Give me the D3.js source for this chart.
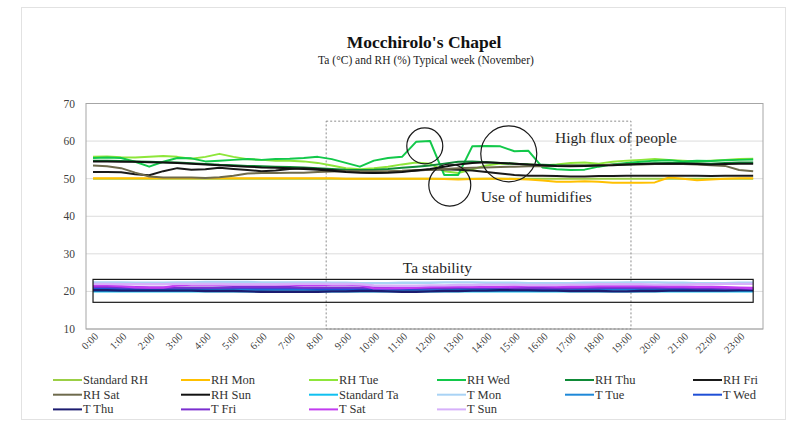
<!DOCTYPE html>
<html>
<head>
<meta charset="utf-8">
<script src="https://cdn.jsdelivr.net/npm/d3@7"></script>
<style>
  body { margin: 0; background: #fff; }
  text { font-family: "Liberation Serif", "DejaVu Serif", serif; }
</style>
</head>
<body>
<script>
// half-hourly readings, 0:00 .. 23:30
const hourLabels = ["0:00","1:00","2:00","3:00","4:00","5:00","6:00","7:00","8:00","9:00","10:00","11:00",
    "12:00","13:00","14:00","15:00","16:00","17:00","18:00","19:00","20:00","21:00","22:00","23:00"];
const yTicks = [10, 20, 30, 40, 50, 60, 70];

const standardRH = [50,50,50,50,50,50,50,50,50,50,50,50,50,50,50,50,50,50,50,50,50,50,50,50,
    50,50,50,50,50,50,50,50,50,50,50,50,50,50,50,50,50,50,50,50,50,50,50,50];
const rhMon = [50.1,50.1,50.1,50.1,50.1,50.1,50.1,50.1,50.1,50.1,50.1,50.1,50.1,50.1,50.1,50.1,50.1,50.1,50.0,50.0,50.0,50.0,50.0,50.0,
    50.0,49.9,49.8,49.9,50.0,50.0,49.9,49.8,49.5,49.2,49.2,49.3,49.2,48.9,48.9,48.9,49.0,50.3,50.0,49.6,49.8,50.0,50.1,50.1];
const rhTue = [55.8,55.9,55.7,55.6,55.8,56.0,55.8,55.3,55.8,56.6,55.8,55.2,55.0,54.8,54.8,54.6,54.2,53.5,52.8,52.5,52.8,53.2,53.8,54.3,
    54.0,52.0,51.5,52.5,53.5,54.0,54.0,53.8,53.5,53.8,54.2,54.3,54.0,54.5,54.8,55.0,55.2,55.0,54.8,54.6,54.8,55.0,55.2,55.3];
const rhWed = [55.5,55.6,55.5,54.5,53.2,54.5,55.5,55.4,54.6,54.8,55.0,55.2,55.0,55.2,55.3,55.5,55.8,55.2,54.2,53.2,54.8,55.5,55.8,59.8,
    60.0,51.0,51.0,58.6,58.7,58.6,57.3,57.4,53.0,52.5,52.3,52.4,53.2,53.8,54.2,54.5,54.8,54.9,54.6,54.8,54.7,54.9,55.0,55.1];
const rhThu = [54.8,54.8,54.7,54.6,54.5,54.4,54.3,54.1,53.9,53.7,53.6,53.4,53.3,53.2,53.1,53.0,52.8,52.6,52.4,52.3,52.4,52.6,52.9,53.2,
    53.5,54.0,54.5,54.6,54.4,54.2,54.0,53.8,53.7,53.6,53.5,53.5,53.6,53.7,53.8,54.0,54.1,54.2,54.2,54.1,54.0,54.2,54.3,54.3];
const rhFri = [51.8,51.8,51.7,51.2,50.9,52.0,52.8,52.4,52.5,52.9,52.6,52.3,52.0,52.2,52.6,52.8,52.6,52.3,52.0,51.8,51.6,51.8,52.0,52.2,
    52.4,52.5,52.4,52.2,51.8,51.4,51.0,50.8,50.8,50.7,50.6,50.6,50.7,50.7,50.8,50.8,50.8,50.8,50.8,50.8,50.7,50.8,50.8,50.8];
const rhSat = [53.5,53.3,52.8,51.6,50.6,50.3,50.3,50.3,50.2,50.4,50.8,51.4,51.5,51.5,51.6,51.6,51.8,51.9,52.0,52.0,52.0,52.0,52.1,52.3,
    52.4,52.6,52.8,52.9,53.0,53.1,53.2,53.3,53.3,53.4,53.5,53.5,53.6,53.7,53.8,53.8,53.9,53.9,53.9,53.8,53.6,53.4,52.3,52.0];
const rhSun = [54.6,54.6,54.5,54.5,54.4,54.3,54.2,54.0,53.8,53.6,53.4,53.2,53.0,52.9,52.8,52.6,52.4,52.1,51.8,51.6,51.5,51.6,51.8,52.2,
    52.6,53.2,53.8,54.2,54.4,54.2,54.0,53.8,53.6,53.4,53.3,53.4,53.5,53.6,53.8,53.9,54.0,54.0,54.0,53.9,53.8,53.9,54.0,54.0];
const standardTa = [20,20,20,20,20,20,20,20,20,20,20,20,20,20,20,20,20,20,20,20,20,20,20,20,
    20,20,20,20,20,20,20,20,20,20,20,20,20,20,20,20,20,20,20,20,20,20,20,20];
const tMon = [22.4,22.4,22.4,22.3,22.3,22.3,22.4,22.4,22.5,22.5,22.5,22.5,22.4,22.4,22.4,22.4,22.4,22.3,22.3,22.2,22.2,22.2,22.3,22.3,
    22.3,22.4,22.4,22.4,22.3,22.3,22.3,22.2,22.2,22.2,22.2,22.3,22.3,22.3,22.4,22.4,22.4,22.3,22.3,22.2,22.2,22.2,22.3,22.3];
const tTue = [20.6,20.6,20.5,20.5,20.5,20.4,20.4,20.4,20.4,20.5,20.5,20.5,20.5,20.6,20.6,20.6,20.5,20.5,20.4,20.4,20.4,20.5,20.5,20.5,
    20.5,20.6,20.6,20.6,20.5,20.5,20.5,20.5,20.4,20.4,20.4,20.5,20.5,20.6,20.6,20.6,20.5,20.5,20.5,20.5,20.5,20.6,20.6,20.6];
const tWed = [20.8,20.8,20.7,20.7,20.7,20.7,20.8,20.8,20.8,20.9,20.9,20.9,20.8,20.8,20.8,20.8,20.7,20.7,20.7,20.6,20.6,20.6,20.7,20.7,
    20.8,20.8,20.9,20.9,20.8,20.8,20.7,20.7,20.7,20.7,20.8,20.8,20.8,20.9,20.9,20.8,20.8,20.8,20.7,20.7,20.7,20.8,20.8,20.8];
const tThu = [20.3,20.3,20.2,20.2,20.2,20.2,20.2,20.2,20.1,20.1,20.1,20.0,19.9,19.9,19.9,19.9,19.9,20.0,20.0,20.1,20.1,20.0,19.9,19.9,
    20.0,20.1,20.1,20.2,20.2,20.3,20.3,20.3,20.2,20.2,20.1,20.1,20.1,20.0,20.0,20.1,20.1,20.2,20.2,20.2,20.2,20.2,20.3,20.3];
const tFri = [21.2,21.2,21.1,21.1,21.0,21.0,21.0,21.0,21.0,21.0,21.1,21.1,21.1,21.1,21.1,21.0,21.0,21.0,21.0,21.0,21.0,20.9,20.9,20.9,
    20.9,20.9,21.0,21.0,21.0,21.0,20.9,20.9,20.9,20.9,20.9,21.0,21.0,21.0,21.0,21.0,21.0,21.0,21.0,20.9,20.9,20.8,20.8,20.7];
const tSat = [21.6,21.6,21.4,21.1,21.0,21.0,21.6,21.8,21.8,21.8,21.8,21.8,21.8,21.8,21.8,21.7,21.7,21.8,21.8,21.7,20.8,20.8,20.9,21.0,
    21.2,21.3,21.3,21.2,21.2,21.2,21.3,21.4,21.4,21.3,21.3,21.3,21.4,21.4,21.5,21.4,21.4,21.3,21.3,21.2,21.2,21.1,21.0,20.9];
const tSun = [22.0,22.0,21.9,21.9,21.9,21.9,22.0,22.0,22.0,22.0,21.9,21.9,21.9,21.9,22.0,22.0,22.0,22.0,22.0,21.9,21.6,21.5,21.5,21.5,
    21.6,21.6,21.7,21.7,21.8,21.8,21.8,21.7,21.7,21.7,21.8,21.8,21.9,21.9,21.9,21.9,21.8,21.8,21.8,21.9,21.9,22.0,22.0,22.0];

const seriesNames = ["Standard RH","RH Mon","RH Tue","RH Wed","RH Thu","RH Fri",
    "RH Sat","RH Sun","Standard Ta","T Mon","T Tue","T Wed","T Thu","T Fri","T Sat","T Sun"];
const seriesValues = [standardRH, rhMon, rhTue, rhWed, rhThu, rhFri,
    rhSat, rhSun, standardTa, tMon, tTue, tWed, tThu, tFri, tSat, tSun];
const seriesColors = ["#9bcf45","#ffc000","#8ee63a","#12c84a","#0f8a37","#1a1a1a",
    "#6e6a4c","#111111","#10c0f0","#a9d3f5","#1e88d8","#1f4fd6","#1c1c70","#7b2fd0","#c23cf0","#d6b0fa"];

// annotations, in data units (hour, value)
const dottedBox = {x0: 8.3, x1: 19.15, y0: 10, y1: 65.3};
const stabilityBox = {x0: 0, x1: 23.5, y0: 17.1, y1: 23.2};
const circles = [{h: 11.81, v: 58.7, r: 18}, {h: 12.7, v: 48.3, r: 21}, {h: 14.8, v: 56.6, r: 28}];
const notes = [{h: 16.45, v: 59.5, t: "High flux of people"},
    {h: 13.8, v: 43.8, t: "Use of humidifies"},
    {h: 11.03, v: 24.9, t: "Ta stability"}];

const W = 802, H = 421;
const plot = {left: 86, right: 763, top: 103.5, bottom: 329};

const svg = d3.select("body").append("svg")
    .attr("width", W)
    .attr("height", H);

svg.append("rect")
    .attr("x", 21.5).attr("y", 7.5)
    .attr("width", 764).attr("height", 412)
    .attr("fill", "#fff")
    .attr("stroke", "#e2e2e2");

const x = d3.scaleLinear()
    .domain([-0.25, 23.85])
    .range([plot.left, plot.right]);
const y = d3.scaleLinear()
    .domain([10, 70])
    .range([plot.bottom, plot.top]);

svg.append("text")
    .attr("x", 424).attr("y", 48)
    .attr("text-anchor", "middle")
    .attr("font-size", 17.5).attr("font-weight", "bold")
    .attr("fill", "#111")
    .text("Mocchirolo's Chapel");
svg.append("text")
    .attr("x", 426).attr("y", 64)
    .attr("text-anchor", "middle")
    .attr("font-size", 11.5)
    .attr("fill", "#222")
    .text("Ta  (°C) and RH (%)  Typical week (November)");

// gridlines + y labels
svg.append("g")
    .selectAll("line")
    .data(yTicks)
    .enter()
    .append("line")
    .attr("x1", plot.left).attr("x2", plot.right)
    .attr("y1", d => y(d)).attr("y2", d => y(d))
    .attr("stroke", d => d === 10 ? "#bfbfbf" : "#dcdcdc");

svg.append("g")
    .selectAll("text")
    .data(yTicks)
    .enter()
    .append("text")
    .attr("x", 75)
    .attr("y", d => y(d) + 4)
    .attr("text-anchor", "end")
    .attr("font-size", 11.5)
    .attr("fill", "#404040")
    .text(d => d);

svg.append("rect")
    .attr("x", plot.left).attr("y", plot.top)
    .attr("width", plot.right - plot.left)
    .attr("height", plot.bottom - plot.top)
    .attr("fill", "none")
    .attr("stroke", "#a6a6a6");

// x labels, rotated
svg.append("g")
    .selectAll("text")
    .data(hourLabels)
    .enter()
    .append("text")
    .attr("transform", (d, i) => "translate(" + (x(i) + 6) + ",337) rotate(-45)")
    .attr("text-anchor", "end")
    .attr("font-size", 10.5)
    .attr("fill", "#404040")
    .text(d => d);

// dotted window
svg.append("rect")
    .attr("x", x(dottedBox.x0)).attr("y", y(dottedBox.y1))
    .attr("width", x(dottedBox.x1) - x(dottedBox.x0))
    .attr("height", y(dottedBox.y0) - y(dottedBox.y1))
    .attr("fill", "none")
    .attr("stroke", "#8c8c8c")
    .attr("stroke-dasharray", "2,2");

const line = d3.line()
    .x((d, i) => x(i / 2))
    .y(d => y(d));

svg.append("g")
    .selectAll("path")
    .data(seriesValues)
    .enter()
    .append("path")
    .attr("d", d => line(d))
    .attr("fill", "none")
    .attr("stroke", (d, i) => seriesColors[i])
    .attr("stroke-width", (d, i) => i >= 8 ? 2.4 : 2)
    .attr("stroke-linejoin", "round");

// Ta stability box
svg.append("rect")
    .attr("x", x(stabilityBox.x0)).attr("y", y(stabilityBox.y1))
    .attr("width", x(stabilityBox.x1) - x(stabilityBox.x0))
    .attr("height", y(stabilityBox.y0) - y(stabilityBox.y1))
    .attr("fill", "none")
    .attr("stroke", "#1a1a1a")
    .attr("stroke-width", 1.2);

svg.append("g")
    .selectAll("circle")
    .data(circles)
    .enter()
    .append("circle")
    .attr("cx", d => x(d.h)).attr("cy", d => y(d.v))
    .attr("r", d => d.r)
    .attr("fill", "none")
    .attr("stroke", "#1a1a1a")
    .attr("stroke-width", 1.2);

svg.append("g")
    .selectAll("text")
    .data(notes)
    .enter()
    .append("text")
    .attr("x", d => x(d.h)).attr("y", d => y(d.v))
    .attr("font-size", 15.5)
    .attr("fill", "#262626")
    .text(d => d.t);

// legend, 6 columns
const legend = svg.append("g")
    .selectAll("g")
    .data(seriesNames)
    .enter()
    .append("g")
    .attr("transform", (d, i) => "translate(" + (53 + (i % 6) * 128) + "," + (380 + Math.floor(i / 6) * 14.7) + ")");
legend.append("line")
    .attr("x1", 0).attr("x2", 29)
    .attr("stroke", (d, i) => seriesColors[i])
    .attr("stroke-width", 2);
legend.append("text")
    .attr("x", 30).attr("y", 4)
    .attr("font-size", 12.5)
    .attr("fill", "#333")
    .text(d => d);
</script>
</body>
</html>
